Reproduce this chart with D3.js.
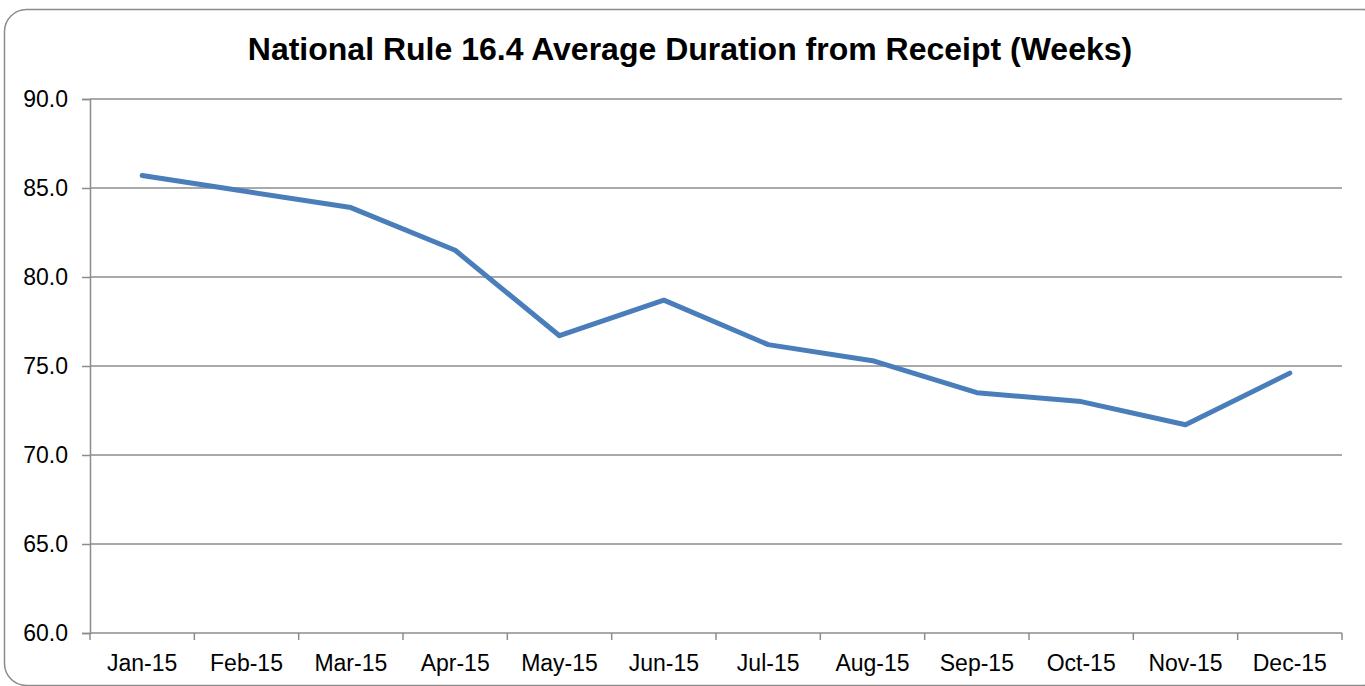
<!DOCTYPE html>
<html>
<head>
<meta charset="utf-8">
<script src="https://d3js.org/d3.v7.min.js"></script>
<style>
  html, body { margin: 0; padding: 0; background: #fff; overflow: hidden; }
  svg { display: block; font-family: "Liberation Sans", Arial, sans-serif; }
</style>
</head>
<body>
<svg id="chart" width="1365" height="686"></svg>
<script>
// Chart data
const months = ['Jan-15', 'Feb-15', 'Mar-15', 'Apr-15', 'May-15', 'Jun-15',
                'Jul-15', 'Aug-15', 'Sep-15', 'Oct-15', 'Nov-15', 'Dec-15'];
const durations = [85.7, 84.8, 83.9, 81.5, 76.7, 78.7, 76.2, 75.3, 73.5, 73.0, 71.7, 74.6];
const yTicks = [60, 65, 70, 75, 80, 85, 90];
const chartTitle = 'National Rule 16.4 Average Duration from Receipt (Weeks)';

const svg = d3.select('#chart');
const margin = { left: 90, right: 23, top: 99, bottom: 53 };
const width = 1365, height = 686;
const labelFont = '23px';

// outer chart border with rounded corners
svg.append('rect')
    .attr('x', 4.5).attr('y', 9.5)
    .attr('width', 1380).attr('height', 676)
    .attr('rx', 22).attr('ry', 22)
    .attr('fill', 'none')
    .attr('stroke', '#8c8c8c')
    .attr('stroke-width', 1.5);

svg.append('text')
    .attr('x', 690).attr('y', 60)
    .attr('text-anchor', 'middle')
    .style('font-size', '32px')
    .style('font-weight', 'bold')
    .attr('fill', '#000')
    .text(chartTitle);

const x = d3.scaleBand()
    .domain(months)
    .range([margin.left, width - margin.right]);

const y = d3.scaleLinear()
    .domain([60, 90])
    .range([height - margin.bottom, margin.top]);

// horizontal gridlines
svg.append('g')
    .selectAll('line')
    .data(yTicks.filter(d => d > 60))
    .enter()
    .append('line')
    .attr('x1', margin.left).attr('x2', width - margin.right)
    .attr('y1', d => y(d)).attr('y2', d => y(d))
    .attr('stroke', '#8c8c8c')
    .attr('stroke-width', 1.5);

// y axis
const yAxis = svg.append('g')
    .attr('transform', `translate(${margin.left},0)`)
    .call(d3.axisLeft(y).tickValues(yTicks).tickFormat(d3.format('.1f')).tickSize(8).tickPadding(14));
yAxis.select('.domain').attr('stroke', '#8c8c8c').attr('stroke-width', 1.5);
yAxis.selectAll('.tick line').attr('stroke', '#8c8c8c').attr('stroke-width', 1.5);
yAxis.selectAll('text')
    .style('font-size', labelFont)
    .style('font-family', '"Liberation Sans", Arial, sans-serif')
    .attr('fill', '#000');

// x axis with ticks between categories
const xAxis = svg.append('g')
    .attr('transform', `translate(0,${height - margin.bottom})`)
    .call(d3.axisBottom(x).tickSize(0).tickPadding(22));
xAxis.select('.domain').remove();
xAxis.append('line')
    .attr('x1', margin.left).attr('x2', width - margin.right)
    .attr('stroke', '#8c8c8c').attr('stroke-width', 1.5);
xAxis.selectAll('.sep')
    .data(months.concat(['end']))
    .enter()
    .append('line')
    .attr('class', 'sep')
    .attr('x1', (d, i) => margin.left + i * x.step())
    .attr('x2', (d, i) => margin.left + i * x.step())
    .attr('y1', 0).attr('y2', 7)
    .attr('stroke', '#8c8c8c').attr('stroke-width', 1.5);
xAxis.selectAll('text')
    .style('font-size', labelFont)
    .style('font-family', '"Liberation Sans", Arial, sans-serif')
    .attr('fill', '#000');

// data line
const line = d3.line()
    .x((d, i) => x(months[i]) + x.bandwidth() / 2)
    .y(d => y(d));

svg.append('path')
    .datum(durations)
    .attr('d', line)
    .attr('fill', 'none')
    .attr('stroke', '#4a7ebb')
    .attr('stroke-width', 5)
    .attr('stroke-linejoin', 'round')
    .attr('stroke-linecap', 'round');
</script>
</body>
</html>
